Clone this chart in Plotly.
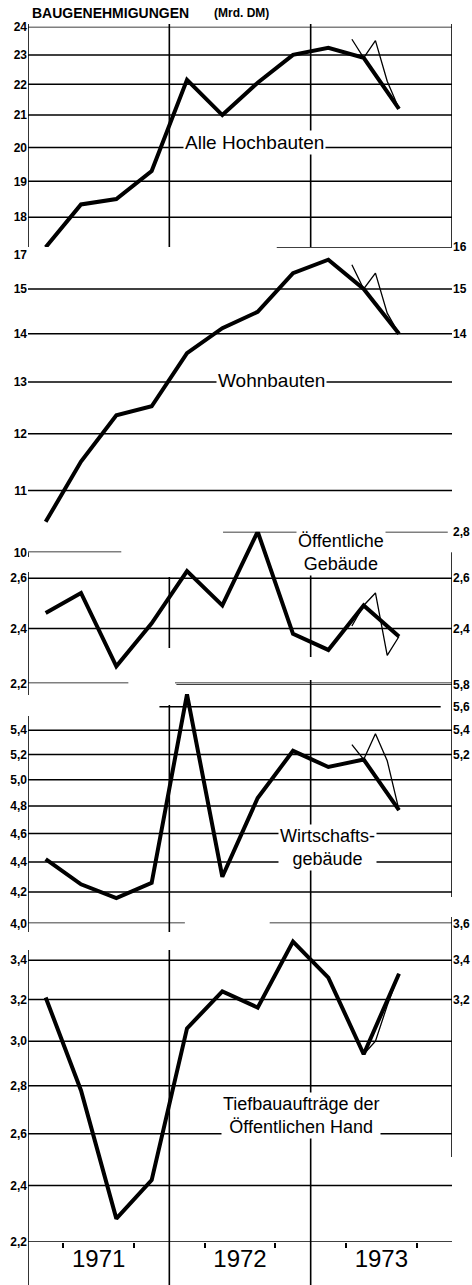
import math
import plotly.graph_objects as go

# ---------------- data ----------------
years = [1971, 1972, 1973]
quarters = ["I/71", "II/71", "III/71", "IV/71", "I/72", "II/72", "III/72", "IV/72",
            "I/73", "II/73", "III/73"]
months_1973 = ["Apr", "Mai", "Jun", "Jul", "Aug"]
months_1973_tief = ["Mai", "Jun", "Jul", "Aug"]

alle_hochbauten = [17.2, 18.35, 18.5, 19.3, 22.15, 21.0, 22.05, 23.0, 23.25, 22.9, 21.2]
alle_hochbauten_monat = [23.55, 22.9, 23.5, 22.1, 21.2]

wohnbauten = [10.48, 11.5, 12.35, 12.52, 13.59, 14.12, 14.48, 15.37, 15.69, 15.0, 14.0]
wohnbauten_monat = [15.57, 15.0, 15.37, 14.45, 14.0]

oeffentliche = [2.46, 2.54, 2.26, 2.42, 2.63, 2.49, 2.80, 2.38, 2.32, 2.49, 2.37]
oeffentliche_monat = [2.41, 2.49, 2.54, 2.30, 2.37]

wirtschaft = [4.42, 4.25, 4.16, 4.26, 5.71, 4.30, 4.86, 5.23, 5.10, 5.16, 4.77]
wirtschaft_monat = [5.28, 5.16, 5.37, 5.15, 4.77]

tiefbau = [3.21, 2.78, 2.28, 2.42, 3.06, 3.24, 3.16, 3.50, 3.31, 2.94, 3.33]
tiefbau_monat = [2.94, 3.00, 3.17, 3.33]

ticks_left_1 = [24, 23, 22, 21, 20, 19, 18, 17]
ticks_left_2 = [15, 14, 13, 12, 11, 10]
ticks_right_2 = [16, 15, 14]
ticks_left_3 = [2.6, 2.4, 2.2]
ticks_right_3 = [2.8, 2.6, 2.4]
ticks_left_4 = [5.4, 5.2, 5.0, 4.8, 4.6, 4.4, 4.2, 4.0]
ticks_right_4 = [5.8, 5.6, 5.4, 5.2]
ticks_left_5 = [3.4, 3.2, 3.0, 2.8, 2.6, 2.4, 2.2]
ticks_right_5 = [3.6, 3.4, 3.2]

# ---------------- helpers ----------------
W, H = 472, 1285
ML, MR = 28, 20
FONT = "Liberation Sans, Arial, sans-serif"


def q_x(label):
    q, yy = label.split("/")
    qn = {"I": 1, "II": 2, "III": 3, "IV": 4}[q]
    return 1900 + int(yy) + (qn - 0.5) / 4


MONTH_NUM = {"Apr": 4, "Mai": 5, "Jun": 6, "Jul": 7, "Aug": 8}


def m_x(m):
    return 1973 + (MONTH_NUM[m] - 0.5) / 12


def py(px):
    return 1 - px / H


def fmt(v, dec):
    return (f"{v:.1f}" if dec else f"{v:.0f}").replace(".", ",")


X0, X1 = years[0], years[-1] + 1

# panel layout: (top value, top px, bottom value, bottom px)
panels = [
    dict(name="Alle Hochbauten", q=alle_hochbauten, m=alle_hochbauten_monat, months=months_1973,
         cal=(24, 26.7, 17, 255.0), left=ticks_left_1, right=[], dec=False,
         grid=[24, 23, 22, 21, 20, 19, 18], partial=[(17, X0, 1972.0)],
         label="Alle Hochbauten", lx=1972.606, ly=142, lsize=19),
    dict(name="Wohnbauten", q=wohnbauten, m=wohnbauten_monat, months=months_1973,
         cal=(16, 247.0, 10, 552.3), left=ticks_left_2, right=ticks_right_2, dec=False,
         grid=[15, 14, 13, 12, 11], partial=[(16, 1972.76, X1), (10, X0, 1971.66)],
         label="Wohnbauten", lx=1972.72, ly=380, lsize=19),
    dict(name="Öffentliche Gebäude", q=oeffentliche, m=oeffentliche_monat, months=months_1973,
         cal=(2.8, 531.7, 2.2, 683.3), left=ticks_left_3, right=ticks_right_3, dec=True,
         grid=[2.6, 2.4],
         partial=[(2.8, 1972.38, 1973.97), (2.2, X0, 1971.71), (2.2, 1972.04, X1)],
         label="Öffentliche<br>Gebäude", lx=1973.215, ly=552, lsize=18),
    dict(name="Wirtschaftsgebäude", q=wirtschaft, m=wirtschaft_monat, months=months_1973,
         cal=(5.8, 684.3, 4.0, 923.3), left=ticks_left_4, right=ticks_right_4, dec=True,
         grid=[5.4, 5.2, 5.0, 4.8, 4.6, 4.4, 4.2],
         partial=[(5.8, 1972.05, X1), (5.6, 1971.93, 1973.92),
                  (4.0, X0, 1972.11), (4.0, 1972.71, X1)],
         label="Wirtschafts-<br>gebäude", lx=1973.12, ly=847, lsize=18),
    dict(name="Tiefbauaufträge", q=tiefbau, m=tiefbau_monat, months=months_1973_tief,
         cal=(3.6, 923.3, 2.2, 1241.7), left=ticks_left_5, right=ticks_right_5, dec=True,
         grid=[3.4, 3.2, 3.0, 2.8, 2.6, 2.4, 2.2], partial=[],
         label="Tiefbauaufträge der<br>Öffentlichen Hand", lx=1972.935, ly=1115, lsize=18),
]

# vertical frame / year-boundary segments (pixel rows from top)
vertical_segments = {
    X0: [(24, 507), (548, 557), (572, 695), (716, 932), (950, 1285)],
    1972: [(24, 505), (577, 648), (705, 932), (950, 1285)],
    1973: [(24, 500), (520, 657), (680, 1285)],
    X1: [(24, 500), (520, 897), (917, 1157)],
}

fig = go.Figure()
layout = dict(
    template="none",
    width=W, height=H, autosize=False,
    margin=dict(l=ML, r=MR, t=0, b=0, pad=0, autoexpand=False),
    paper_bgcolor="white", plot_bgcolor="white",
    showlegend=False,
    font=dict(family=FONT, color="black"),
)

shapes = []
annotations = []
tickfont = dict(family=FONT, size=12, color="black", weight="bold")
GRID = dict(color="black", width=1.5)

for i, p in enumerate(panels):
    n = i + 1
    yid = "y" if n == 1 else f"y{n}"
    ykey = "yaxis" if n == 1 else f"yaxis{n}"
    vt, pt, vb, pb = p["cal"]
    rng = [math.log10(vb), math.log10(vt)]
    layout[ykey] = dict(
        type="log", domain=[py(pb), py(pt)], range=rng, anchor="x", side="left",
        tickmode="array", tickvals=p["left"], ticktext=[fmt(v, p["dec"]) for v in p["left"]],
        showgrid=False, zeroline=False, showline=False, ticks="", tickfont=tickfont,
        fixedrange=True, automargin=False,
    )
    yid_thin = yid
    if p["right"]:
        rn = 5 + n
        yid_thin = f"y{rn}"
        layout[f"yaxis{rn}"] = dict(
            type="log", range=rng, domain=[py(pb), py(pt)], anchor="x", side="right",
            overlaying=yid,
            tickmode="array", tickvals=p["right"],
            ticktext=[fmt(v, p["dec"]) for v in p["right"]],
            showgrid=False, zeroline=False, showline=False, ticks="",
            tickfont=tickfont, fixedrange=True, automargin=False,
        )
    # gridlines
    for v in p["grid"]:
        shapes.append(dict(type="line", xref="x", yref=yid, x0=X0, x1=X1,
                           y0=v, y1=v, line=GRID, layer="below"))
    for v, x0, x1 in p["partial"]:
        shapes.append(dict(type="line", xref="x", yref=yid, x0=x0, x1=x1,
                           y0=v, y1=v, line=GRID, layer="below"))
    # series
    fig.add_trace(go.Scatter(
        x=[q_x(q) for q in quarters], y=p["q"], mode="lines", yaxis=yid, name=p["name"],
        line=dict(color="black", width=4), cliponaxis=False, hoverinfo="skip"))
    fig.add_trace(go.Scatter(
        x=[m_x(m) for m in p["months"]], y=p["m"], mode="lines", yaxis=yid_thin,
        name=p["name"] + " (monatlich)",
        line=dict(color="black", width=1.3), cliponaxis=False, hoverinfo="skip"))
    annotations.append(dict(
        text=p["label"], xref="x", yref="paper", x=p["lx"], y=py(p["ly"]),
        xanchor="center", yanchor="middle", showarrow=False, align="center",
        font=dict(family=FONT, size=p["lsize"], color="black"),
        bgcolor="white", borderpad=1))

# vertical lines (year boundaries and frame)
for xv, segs in vertical_segments.items():
    for top, bot in segs:
        shapes.append(dict(type="line", xref="x", yref="paper", x0=xv, x1=xv,
                           y0=py(bot), y1=py(top), line=dict(color="black", width=1.6),
                           layer="below"))

# title
annotations.append(dict(text="<b>BAUGENEHMIGUNGEN</b>", xref="paper", yref="paper",
                        x=2 / (W - ML - MR), y=py(13), xanchor="left", yanchor="middle",
                        showarrow=False, font=dict(family=FONT, size=14, color="black")))
annotations.append(dict(text="<b>(Mrd. DM)</b>", xref="paper", yref="paper",
                        x=(212 - ML) / (W - ML - MR), y=py(13.5), xanchor="left", yanchor="middle",
                        showarrow=False, font=dict(family=FONT, size=12, color="black")))

layout["xaxis"] = dict(
    range=[X0, X1], domain=[0, 1], anchor="y5",
    tickmode="array", tickvals=[y + 0.5 for y in years], ticktext=[str(y) for y in years],
    ticks="", showgrid=False, zeroline=False, showline=False, automargin=False,
    tickfont=dict(family=FONT, size=24, color="black"), fixedrange=True,
    minor=dict(tickmode="array", tickvals=[y + f for y in years for f in (0.25, 0.75)],
               ticks="outside", ticklen=5, tickwidth=1.5, tickcolor="black", showgrid=False),
)
layout["shapes"] = shapes
layout["annotations"] = annotations
fig.update_layout(**layout)

fig.write_html(
    "out.html",
    config={"responsive": False, "displayModeBar": False},
    post_script="document.body.style.margin='0px';document.body.style.overflow='hidden';",
)
